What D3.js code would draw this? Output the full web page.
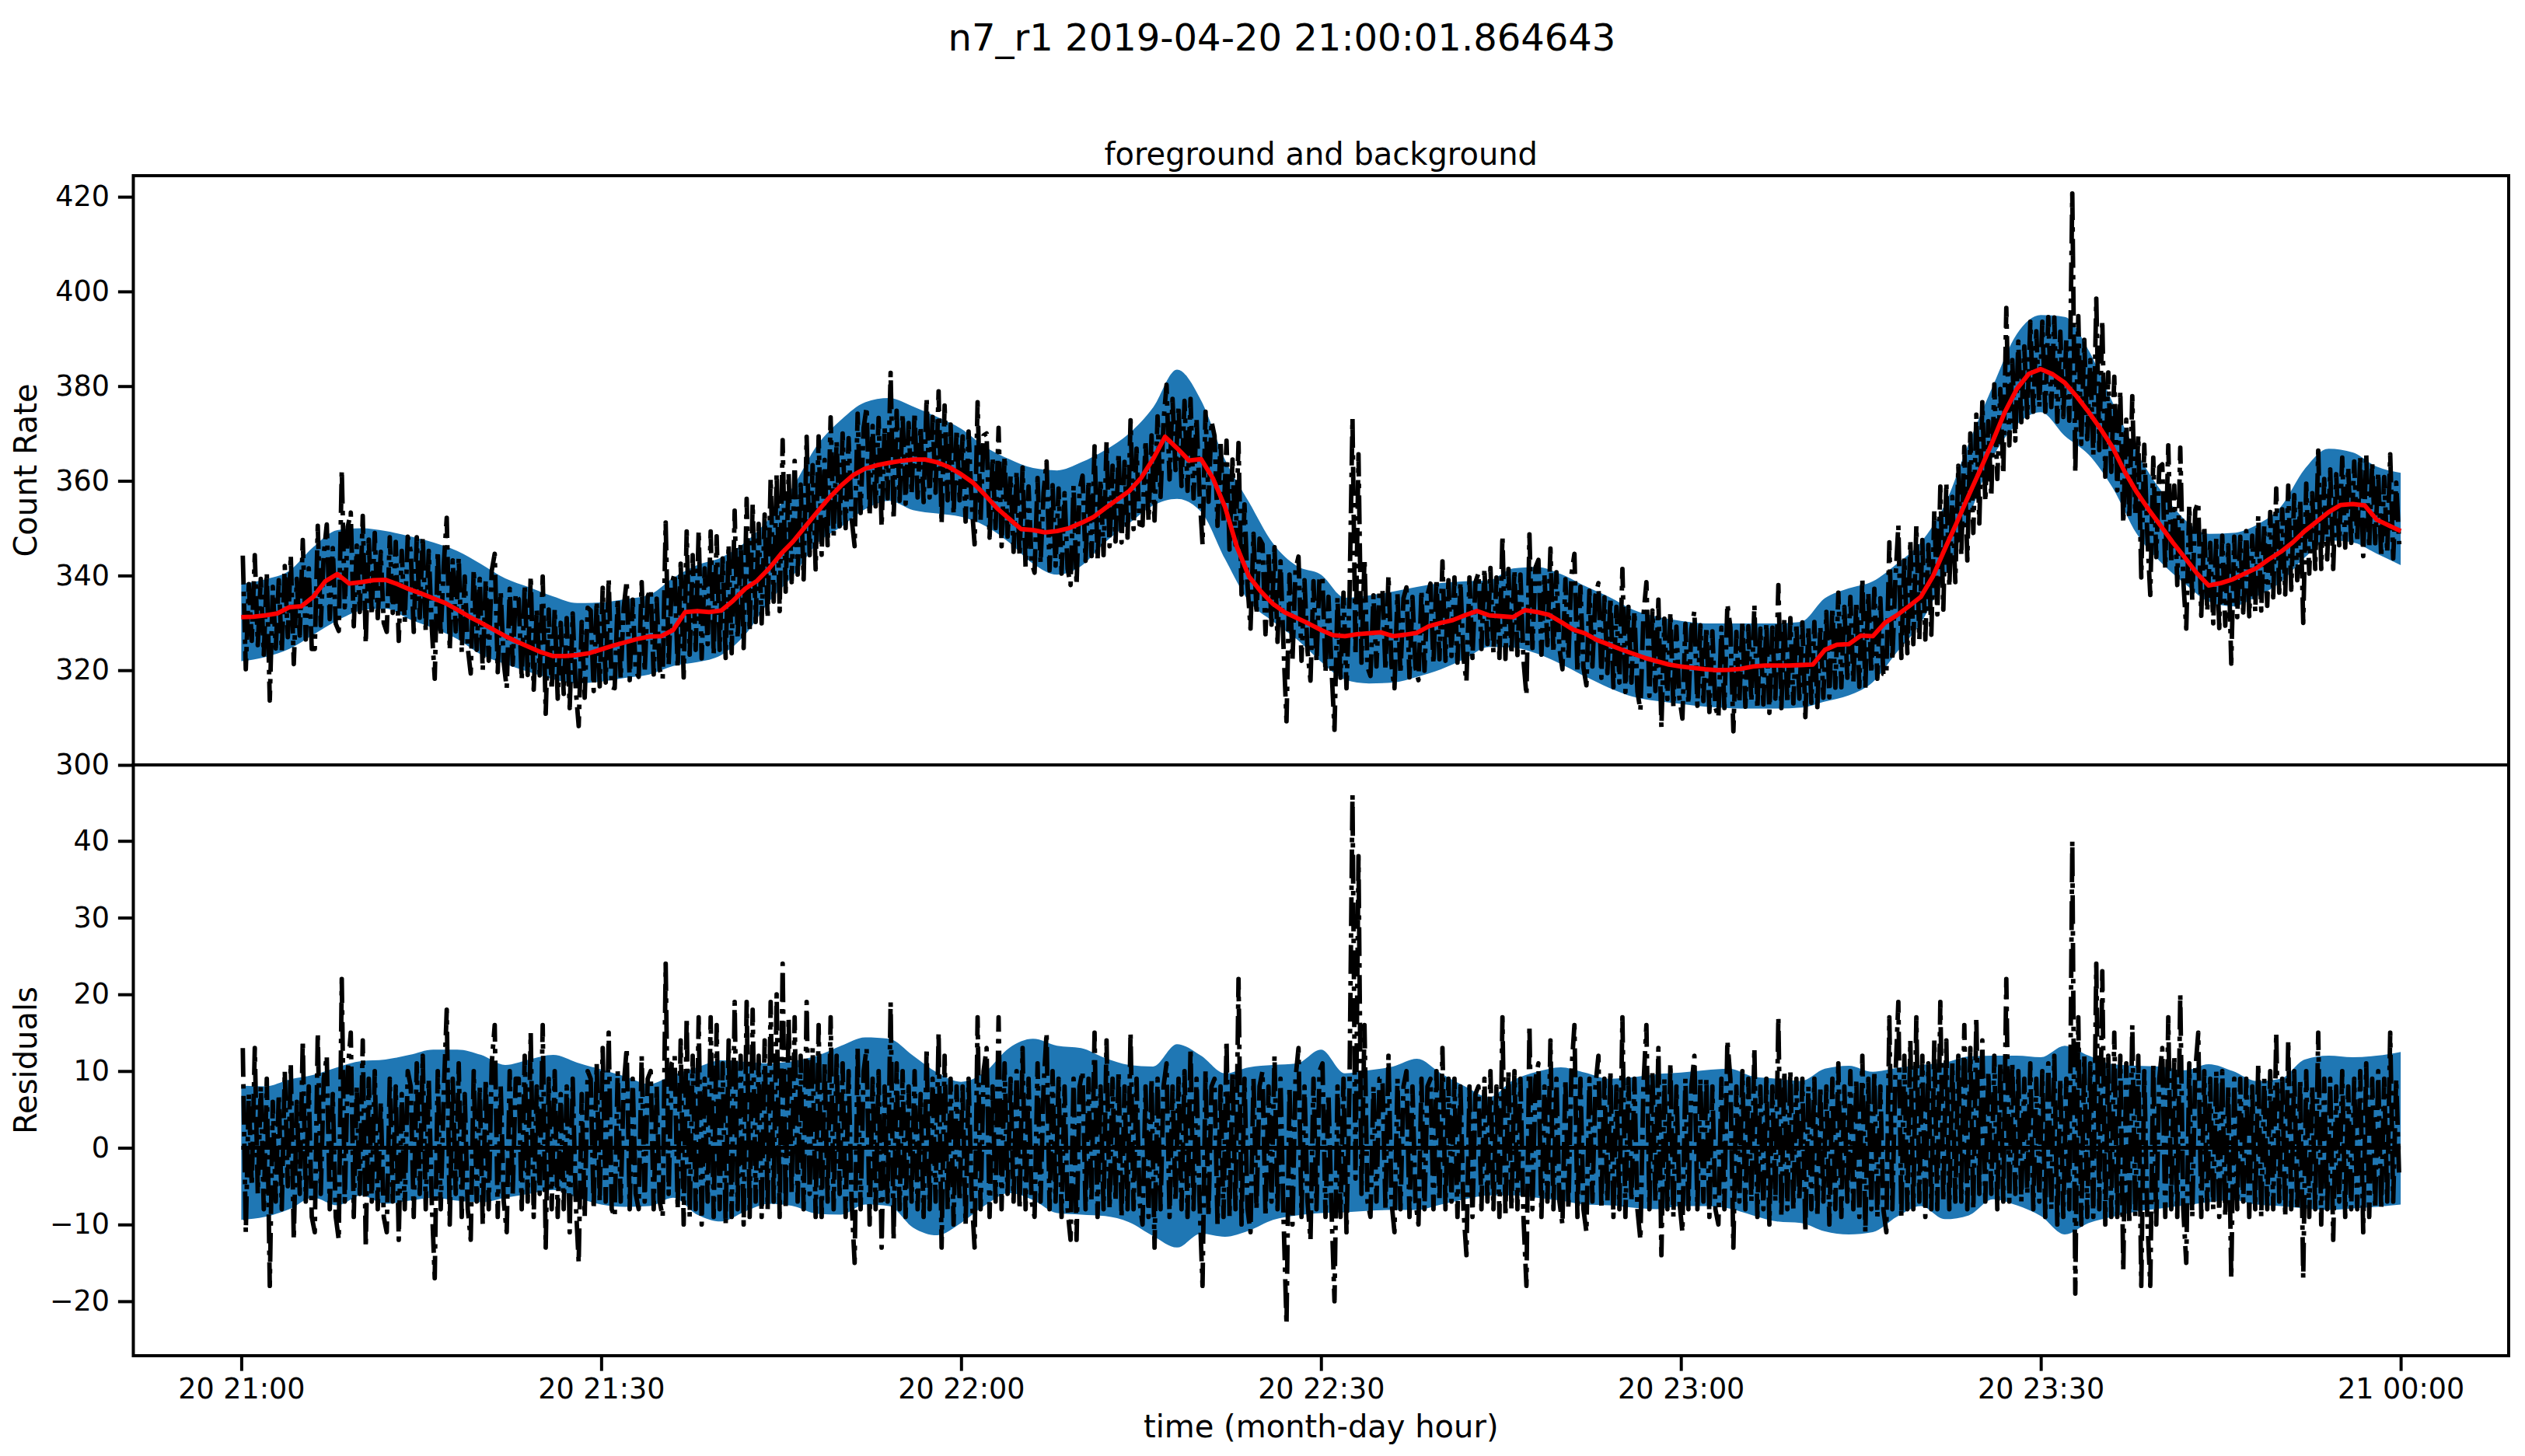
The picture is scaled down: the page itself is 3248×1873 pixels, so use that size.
<!DOCTYPE html>
<html>
<head>
<meta charset="utf-8">
<script src="https://cdn.jsdelivr.net/npm/d3@7"></script>
<style>
  body { margin: 0; background: #fff; }
  svg text { font-family: "DejaVu Sans", sans-serif; fill: #000; }
</style>
</head>
<body>
<svg id="fig" width="3248" height="1873"></svg>
<script>
// minutes after 20 21:00 for the model line (1 per minute) and the bands (every 2 minutes)
var modelMinutes = d3.range(0, 181, 1);
var bandMinutes = d3.range(0, 181, 2);

// red model curve, count rate
var model = [331.2,331.3,331.6,332.0,333.3,333.5,335.5,338.8,340.3,338.3,
  338.6,339.0,339.1,338.2,337.1,336.2,335.2,334.2,332.8,331.3,
  330.0,328.6,327.2,326.0,324.9,323.8,323.0,323.0,323.2,323.6,
  324.4,325.2,325.9,326.6,327.1,327.2,328.5,332.3,332.5,332.3,
  332.6,334.7,337.2,338.9,341.5,344.6,347.2,350.3,353.4,356.4,
  359.0,361.2,362.6,363.3,363.8,364.2,364.5,364.5,363.9,362.9,
  361.4,359.6,357.0,354.2,352.0,349.8,349.6,349.1,349.4,350.0,
  351.1,352.3,354.2,356.0,357.8,360.6,364.6,369.3,366.9,364.3,
  364.6,360.5,354.5,346.0,339.8,336.6,334.0,332.2,331.0,329.8,
  328.5,327.4,327.2,327.6,327.8,328.0,327.2,327.5,327.9,329.3,
  330.0,330.6,331.6,332.5,331.6,331.4,331.2,332.7,332.3,331.7,
  330.2,328.6,327.8,326.4,325.4,324.4,323.5,322.6,321.9,321.2,
  320.8,320.5,320.2,320.0,320.1,320.3,320.8,321.0,321.0,321.0,
  321.1,321.2,324.3,325.4,325.5,327.3,327.2,330.0,331.6,333.5,
  335.5,339.8,345.6,351.2,357.0,362.6,368.4,374.5,379.4,382.6,
  383.6,382.5,380.7,377.8,374.5,370.9,367.0,361.9,357.6,353.9,
  350.5,347.0,343.8,340.5,337.9,338.4,339.2,340.4,341.6,343.4,
  345.0,347.0,349.4,351.4,353.4,354.9,355.1,354.8,351.8,350.6,
  349.4];

// blue band, top panel
var bandHigh = [338.2,339.2,341.0,346.0,349.6,350.0,349.4,348.3,347.0,345.2,
  342.4,339.4,337.5,335.6,334.2,334.3,335.0,335.9,339.5,342.2,
  343.8,347.0,352.0,358.8,367.5,372.9,376.6,377.5,375.7,373.5,
  371.0,367.2,364.6,362.7,362.2,363.9,366.5,370.0,375.5,383.5,
  377.0,364.5,355.5,346.8,342.0,340.2,335.3,335.8,336.6,337.6,
  338.4,338.8,339.0,341.5,341.8,340.3,337.8,335.5,332.8,331.3,
  330.4,329.9,329.9,329.9,329.9,330.2,335.2,337.3,338.8,342.5,
  347.0,355.0,368.0,380.0,391.0,395.0,394.6,387.5,376.5,366.0,
  358.0,351.8,348.8,349.0,350.7,354.5,362.5,366.8,366.0,363.0,
  361.7];
var bandLow = [321.9,322.8,324.5,327.5,330.5,332.6,333.0,330.8,328.9,326.6,
  323.3,321.3,319.6,318.1,317.2,317.6,318.4,319.1,320.9,321.7,
  323.2,327.5,334.5,340.0,346.8,350.3,354.0,355.8,353.8,353.1,
  352.4,350.5,347.0,342.5,340.2,342.0,347.0,351.0,354.8,356.2,
  353.5,343.5,334.5,330.3,326.5,321.8,318.0,317.2,317.4,318.6,
  320.2,322.4,324.9,324.8,323.5,321.3,318.7,316.3,314.4,313.5,
  312.9,312.3,312.0,311.9,311.9,312.1,313.4,314.7,317.5,323.8,
  330.0,340.0,352.3,365.0,371.9,374.5,369.5,365.5,358.5,348.8,
  342.8,338.3,334.5,333.5,335.6,338.6,343.8,347.4,347.0,344.6,
  342.2];

// blue band, residual panel
var residHigh = [8.1,8.0,8.9,9.5,10.5,11.3,11.5,12.1,12.8,12.8,
  12.1,10.8,11.5,12.1,11.1,10.2,9.3,8.3,9.5,10.5,
  11.4,11.2,11.0,11.3,12.0,13.3,14.4,14.2,12.0,9.8,
  8.6,9.9,13.0,14.2,13.3,13.0,11.7,10.8,10.6,13.5,
  12.0,9.7,10.5,10.8,11.0,12.8,9.7,10.1,10.6,11.6,
  9.7,8.0,6.6,8.8,9.9,10.5,9.8,9.0,9.2,9.6,
  9.8,10.1,10.3,9.3,9.0,8.7,10.3,10.7,9.9,10.4,
  10.8,11.1,11.9,12.0,12.0,11.8,13.3,12.0,10.9,10.7,
  10.6,10.1,10.9,10.0,8.7,9.0,11.5,12.0,11.8,12.0,
  12.5];
var residLow = [-9.4,-9.0,-8.0,-6.5,-7.5,-6.2,-7.3,-6.9,-6.5,-6.9,
  -7.1,-6.5,-6.0,-5.5,-6.5,-7.4,-7.7,-7.6,-6.5,-8.7,
  -9.6,-8.3,-7.3,-7.6,-8.6,-8.7,-7.4,-7.6,-10.4,-11.4,
  -9.8,-7.5,-5.9,-6.8,-8.5,-8.7,-8.9,-9.7,-11.5,-13.0,
  -11.2,-11.6,-10.8,-9.4,-8.8,-8.5,-8.4,-8.2,-8.1,-8.1,
  -7.4,-6.7,-6.2,-6.2,-6.5,-6.9,-7.4,-7.5,-7.8,-8.0,
  -7.6,-7.6,-7.9,-8.8,-9.6,-9.8,-10.9,-11.3,-11.0,-9.0,
  -7.6,-9.3,-8.8,-6.7,-7.5,-8.9,-11.3,-9.8,-9.0,-8.3,
  -7.9,-7.5,-7.1,-6.8,-7.4,-7.6,-7.9,-8.1,-7.9,-7.7,
  -7.4];

// measured points minus model, four readings per minute (minute 0 .. 179)
var residuals = [
  [13,-11,7,-5],[13,-6,8,-8],[9,-18,6,-7],[7,-8,10,-5],[11,-12,6,-6],
  [14,-7,8,-9],[-11,15,-6,9],[12,-8,7,-9],[-12,22,-7,10],[15,-9,8,-6],
  [14,-13,9,-7],[10,-8,6,-9],[-11,9,-7,8],[-12,7,-8,10],[8,-9,11,-6],
  [12,-8,9,-7],[-17,10,-8,7],[18,-10,9,-6],[11,-9,7,-8],[-12,10,-7,8],
  [-10,9,-8,11],[16,-9,8,-7],[-11,10,-6,9],[9,-8,12,-7],[15,-9,8,-6],
  [16,-13,9,-8],[10,-9,7,-8],[8,-11,9,-7],[-15,7,-9,10],[9,-8,11,-7],
  [13,-7,15,-8],[-9,10,-7,8],[13,-8,9,-6],[-8,12,-7,9],[10,-8,8,-7],
  [-9,24,-6,11],[12,-8,14,-10],[17,-9,12,-8],[17,-10,9,-7],[17,-9,16,-8],
  [11,-10,14,-9],[19,-8,12,-10],[19,-9,18,-7],[12,-9,14,-8],[19,-7,20,-9],
  [24,-8,17,-6],[17,-7,12,-8],[19,-6,13,-9],[16,-9,11,-7],[17,-8,12,-6],
  [11,-9,10,-7],[-15,13,-8,10],[13,-10,9,-8],[10,-13,8,-7],[19,-12,11,-8],
  [10,-9,8,-7],[10,-8,7,-9],[13,-8,9,-7],[15,-13,12,-8],[9,-10,8,-7],
  [8,-10,9,-6],[-13,17,-8,10],[13,-9,8,-7],[17,-8,11,-6],[9,-7,10,-8],
  [13,-8,9,-7],[-9,11,-7,8],[15,-8,10,-7],[9,-9,8,-8],[-12,9,-12,8],
  [10,-8,9,-7],[15,-9,8,-8],[14,-8,9,-7],[10,-9,8,-8],[15,-8,9,-7],
  [-10,8,-9,9],[-13,9,-8,8],[11,-9,8,-7],[9,-8,10,-9],[13,-8,9,-7],
  [-18,10,-9,8],[9,-10,8,-9],[14,-9,10,-8],[22,-10,9,-8],[-11,9,-8,8],
  [10,-9,8,-7],[12,-8,9,-9],[-23,8,-10,9],[13,-9,8,-7],[-12,9,-8,10],
  [11,-9,7,-8],[-20,8,-9,9],[-11,8,46,-4],[38,-6,16,-7],[-9,8,-7,9],
  [9,-8,12,-7],[-11,9,-8,8],[10,-9,8,-7],[-10,9,-8,8],[9,-8,10,-7],
  [13,-8,9,-7],[9,-9,8,-8],[-14,8,-9,7],[8,-8,9,-7],[10,-8,8,-9],
  [17,-9,10,-8],[10,-8,9,-9],[-18,16,-8,9],[11,-9,8,-7],[14,-8,9,-7],
  [-10,9,-8,10],[16,-9,9,-8],[-11,9,-7,8],[12,-8,9,-7],[10,-9,8,-8],
  [17,-9,9,-7],[9,-8,-12,8],[16,-8,10,-7],[13,-14,9,-8],[11,-9,8,-7],
  [-11,9,-8,8],[12,-8,9,-7],[9,-9,8,-8],[-10,9,-8,14],[9,-13,8,-7],
  [10,-8,9,-7],[13,-9,8,-8],[9,-10,8,-7],[17,-9,10,-8],[10,-8,9,-7],
  [9,-11,8,-8],[9,-9,8,-7],[8,-10,9,-8],[11,-9,8,-7],[10,-8,9,-9],
  [12,-11,9,-8],[10,-9,8,-8],[-11,17,-8,9],[19,-9,12,-8],[14,-8,17,-7],
  [12,-9,11,-8],[14,-8,19,-7],[14,-8,11,-7],[12,-7,16,-8],[13,-8,17,-6],
  [14,-7,10,-6],[12,-8,11,-7],[22,-7,11,-6],[10,-7,9,-6],[11,-8,9,-7],
  [10,-9,11,-8],[12,-10,9,-9],[9,-8,40,-19],[17,-10,12,-9],[11,-9,24,-8],
  [23,-10,12,-9],[15,-9,12,-16],[11,-10,16,-9],[12,-18,10,-9],[-18,11,-10,9],
  [13,-9,17,-8],[12,-9,20,-8],[-15,11,-9,10],[15,-9,10,-8],[9,-8,10,-9],
  [10,-9,8,-17],[9,-8,9,-7],[9,-9,8,-8],[11,-9,9,-8],[10,-8,15,-7],
  [9,-9,14,-8],[10,-8,9,-17],[10,-9,8,-8],[15,-10,9,-8],[9,-12,8,-7],
  [10,-9,8,-8],[9,-8,10,-11],[11,-9,9,-8],[10,-8,9,-7],[15,-7,9,-4]
];

var countTicks = [300, 320, 340, 360, 380, 400, 420];
var residTicks = [-20, -10, 0, 10, 20, 30, 40];

var T0 = new Date(2019, 3, 20, 21, 0, 0);
function at(m) { return new Date(T0.getTime() + m * 60000); }

var svg = d3.select("#fig");
svg.append("rect").attr("width", 3248).attr("height", 1873).attr("fill", "#fff");

var left = 171.5, right = 3227;
var topY0 = 226, midY = 984, botY1 = 1744;

var x = d3.scaleTime().domain([at(-9), at(189)]).range([left, right]);
var yTop = d3.scaleLinear().domain([300, 424.45]).range([midY, topY0]);
var yRes = d3.scaleLinear().domain([-27.1, 49.9]).range([botY1, midY]);

// flatten the readings into timed points
var points = [];
residuals.forEach(function(row, m) {
  row.forEach(function(r, k) {
    points.push({t: m + (k + 0.5) / 4, r: r, v: model[m] + r});
  });
});

var lw = 5.8;
var dashDot = [6.4, 1.6, 1.0, 1.6].map(function(d) { return d * lw; }).join(" ");
var blue = "#1f77b4";

var defs = svg.append("defs");
defs.append("clipPath").attr("id", "clipTop").append("rect")
  .attr("x", left).attr("y", topY0).attr("width", right - left).attr("height", midY - topY0);
defs.append("clipPath").attr("id", "clipBot").append("rect")
  .attr("x", left).attr("y", midY).attr("width", right - left).attr("height", botY1 - midY);

// ---- top panel
var gTop = svg.append("g").attr("clip-path", "url(#clipTop)");
var bandTop = bandMinutes.map(function(t, i) { return {t: t, hi: bandHigh[i], lo: bandLow[i]}; });
gTop.append("path")
  .datum(bandTop)
  .attr("fill", blue)
  .attr("d", d3.area().curve(d3.curveMonotoneX)
    .x(function(d) { return x(at(d.t)); })
    .y0(function(d) { return yTop(d.lo); })
    .y1(function(d) { return yTop(d.hi); }));

gTop.append("path")
  .datum(points)
  .attr("fill", "none")
  .attr("stroke", "#000")
  .attr("stroke-width", lw)
  .attr("stroke-dasharray", dashDot)
  .attr("stroke-linejoin", "round")
  .attr("d", d3.line()
    .x(function(d) { return x(at(d.t)); })
    .y(function(d) { return yTop(d.v); }));

gTop.append("path")
  .datum(modelMinutes.map(function(t, i) { return {t: t, v: model[i]}; }))
  .attr("fill", "none")
  .attr("stroke", "#ff0000")
  .attr("stroke-width", lw)
  .attr("stroke-linejoin", "round")
  .attr("d", d3.line()
    .x(function(d) { return x(at(d.t)); })
    .y(function(d) { return yTop(d.v); }));

// ---- residual panel
var gBot = svg.append("g").attr("clip-path", "url(#clipBot)");
var bandBot = bandMinutes.map(function(t, i) { return {t: t, hi: residHigh[i], lo: residLow[i]}; });
gBot.append("path")
  .datum(bandBot)
  .attr("fill", blue)
  .attr("d", d3.area().curve(d3.curveMonotoneX)
    .x(function(d) { return x(at(d.t)); })
    .y0(function(d) { return yRes(d.lo); })
    .y1(function(d) { return yRes(d.hi); }));

gBot.append("path")
  .datum(points)
  .attr("fill", "none")
  .attr("stroke", "#000")
  .attr("stroke-width", lw)
  .attr("stroke-dasharray", dashDot)
  .attr("stroke-linejoin", "round")
  .attr("d", d3.line()
    .x(function(d) { return x(at(d.t)); })
    .y(function(d) { return yRes(d.r); }));

gBot.append("line")
  .attr("x1", x(at(0))).attr("x2", x(at(180)))
  .attr("y1", yRes(0)).attr("y2", yRes(0))
  .attr("stroke", "#000").attr("stroke-width", 4.9);

// ---- axes
function styleAxis(g) {
  g.select(".domain").remove();
  g.selectAll(".tick line").attr("stroke", "#000").attr("stroke-width", 4);
  g.selectAll(".tick text").attr("font-size", 36.5).attr("fill", "#000")
    .attr("font-family", "DejaVu Sans");
}

svg.append("g").attr("transform", "translate(" + left + ",0)")
  .call(d3.axisLeft(yTop).tickValues(countTicks).tickFormat(d3.format("d")).tickSize(19.6).tickPadding(11))
  .call(styleAxis);

svg.append("g").attr("transform", "translate(" + left + ",0)")
  .call(d3.axisLeft(yRes).tickValues(residTicks).tickFormat(d3.format("d")).tickSize(19.6).tickPadding(11))
  .call(styleAxis);

svg.append("g").attr("transform", "translate(0," + botY1 + ")")
  .call(d3.axisBottom(x).ticks(d3.timeMinute.every(30)).tickFormat(d3.timeFormat("%d %H:%M"))
    .tickSize(19.6).tickPadding(9))
  .call(styleAxis);

// spines
[[topY0, midY], [midY, botY1]].forEach(function(p) {
  svg.append("rect")
    .attr("x", left).attr("y", p[0]).attr("width", right - left).attr("height", p[1] - p[0])
    .attr("fill", "none").attr("stroke", "#000").attr("stroke-width", 4);
});

// ---- text
svg.append("text").attr("x", 1649).attr("y", 65).attr("text-anchor", "middle")
  .attr("font-size", 48).text("n7_r1 2019-04-20 21:00:01.864643");
svg.append("text").attr("x", (left + right) / 2).attr("y", 212).attr("text-anchor", "middle")
  .attr("font-size", 40).text("foreground and background");
svg.append("text").attr("x", (left + right) / 2).attr("y", 1849).attr("text-anchor", "middle")
  .attr("font-size", 40).text("time (month-day hour)");
svg.append("text").attr("transform", "translate(47," + (topY0 + midY) / 2 + ") rotate(-90)")
  .attr("text-anchor", "middle").attr("font-size", 40).text("Count Rate");
svg.append("text").attr("transform", "translate(47," + (midY + botY1) / 2 + ") rotate(-90)")
  .attr("text-anchor", "middle").attr("font-size", 40).text("Residuals");
</script>
</body>
</html>
